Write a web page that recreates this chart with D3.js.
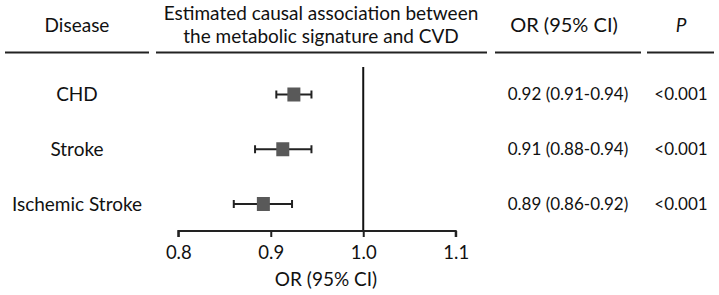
<!DOCTYPE html>
<html><head><meta charset="utf-8">
<script src="https://cdn.jsdelivr.net/npm/d3@7"></script>
<style>body{margin:0;background:#fff}svg{display:block}text{font-family:Lato,"Open Sans",sans-serif;fill:#111}</style>
</head><body>
<svg id="c" width="719" height="295"></svg>
<script>
const diseases = ["CHD", "Stroke", "Ischemic Stroke"];
const orValues = [0.925, 0.913, 0.892];
const ciLow = [0.906, 0.883, 0.860];
const ciHigh = [0.944, 0.944, 0.923];
const orLabels = ["0.92 (0.91-0.94)", "0.91 (0.88-0.94)", "0.89 (0.86-0.92)"];
const pLabels = ["<0.001", "<0.001", "<0.001"];
const xTicks = [0.8, 0.9, 1.0, 1.1];

const svg = d3.select("#c");
const fs = 19, fn = 17;
const x = d3.scaleLinear().domain([0.8, 1.1]).range([178.3, 455.7]);
const y = d3.scalePoint().domain(diseases).range([94.5, 204]);

// header
const hdr = svg.append("g");
hdr.append("text").attr("x", 77).attr("y", 32).attr("text-anchor", "middle").attr("font-size", fs).text("Disease");
hdr.append("text").attr("x", 321).attr("y", 20).attr("text-anchor", "middle").attr("font-size", fs).text("Estimated causal association between");
hdr.append("text").attr("x", 321).attr("y", 43).attr("text-anchor", "middle").attr("font-size", fs).text("the metabolic signature and CVD");
hdr.append("text").attr("x", 564).attr("y", 32).attr("text-anchor", "middle").attr("font-size", fs + 1).text("OR (95% CI)");
hdr.append("text").attr("x", 681).attr("y", 32).attr("text-anchor", "middle").attr("font-size", fs).attr("font-style", "italic").text("P");
[[5,149],[156,487],[495,641],[647,714]].forEach(([a,b]) => {
  hdr.append("line").attr("x1", a).attr("x2", b).attr("y1", 52.5).attr("y2", 52.5).attr("stroke", "#222").attr("stroke-width", 2);
});

// reference line
svg.append("line").attr("x1", x(1.0)).attr("x2", x(1.0)).attr("y1", 67).attr("y2", 231).attr("stroke", "#111").attr("stroke-width", 2);

// axis
const axis = d3.axisBottom(x).tickValues(xTicks).tickFormat(d3.format(".1f")).tickSize(6).tickPadding(9);
const ag = svg.append("g").attr("transform", "translate(0,231)").call(axis);
ag.select(".domain").attr("stroke", "#222").attr("stroke-width", 2).attr("d", `M${x(0.8)},6V0H${x(1.1)}V6`);
ag.selectAll(".tick line").attr("stroke", "#222").attr("stroke-width", 2);
ag.selectAll(".tick text").attr("font-size", 18.5).attr("font-family", "Lato").attr("fill", "#111");
svg.append("text").attr("x", 326).attr("y", 286).attr("text-anchor", "middle").attr("font-size", fs).text("OR (95% CI)");

// rows
const rows = svg.selectAll("g.row").data(diseases).join("g").attr("class", "row");
rows.append("text").attr("x", 77).attr("y", d => y(d)).attr("dy", "0.35em").attr("text-anchor", "middle").attr("font-size", fs).text(d => d);
rows.append("line").attr("x1", (d,i) => x(ciLow[i])).attr("x2", (d,i) => x(ciHigh[i])).attr("y1", d => y(d)).attr("y2", d => y(d)).attr("stroke", "#222").attr("stroke-width", 2);
rows.append("line").attr("x1", (d,i) => x(ciLow[i])).attr("x2", (d,i) => x(ciLow[i])).attr("y1", d => y(d)-4).attr("y2", d => y(d)+4).attr("stroke", "#222").attr("stroke-width", 2);
rows.append("line").attr("x1", (d,i) => x(ciHigh[i])).attr("x2", (d,i) => x(ciHigh[i])).attr("y1", d => y(d)-4).attr("y2", d => y(d)+4).attr("stroke", "#222").attr("stroke-width", 2);
rows.append("rect").attr("x", (d,i) => x(orValues[i]) - 6.5).attr("y", d => y(d) - 7).attr("width", 13).attr("height", 14).attr("fill", "#595959");
rows.append("text").attr("x", 568).attr("y", d => y(d)).attr("dy", "0.35em").attr("text-anchor", "middle").attr("font-size", fn).text((d,i) => orLabels[i]);
rows.append("text").attr("x", 681).attr("y", d => y(d)).attr("dy", "0.35em").attr("text-anchor", "middle").attr("font-size", fn).text((d,i) => pLabels[i]);
</script>
</body></html>
